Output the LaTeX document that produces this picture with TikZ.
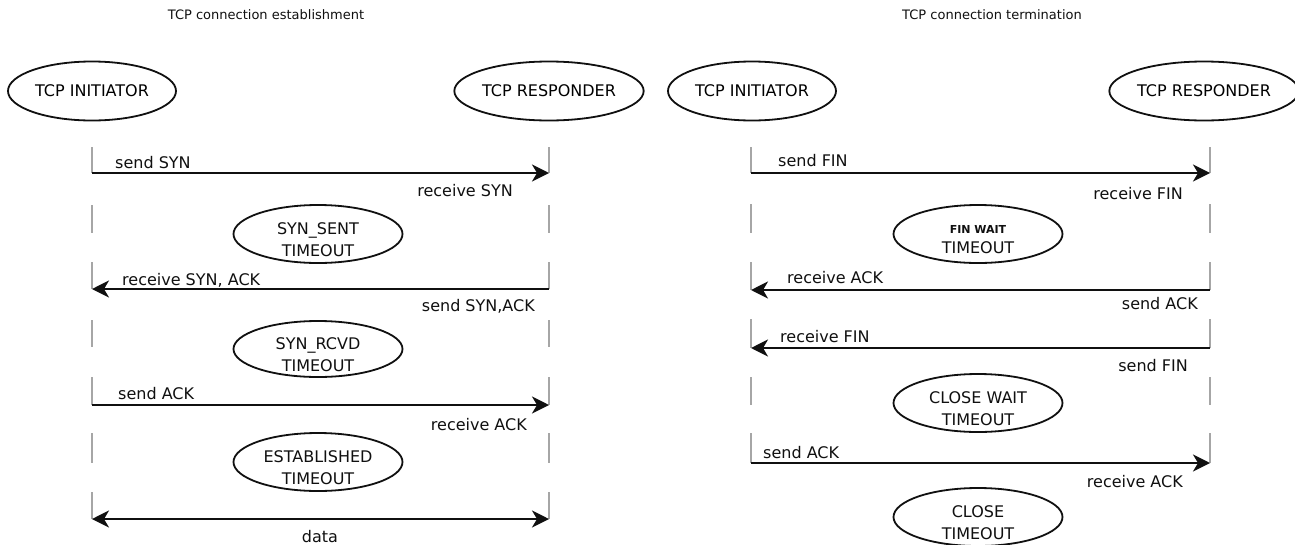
\documentclass[tikz,border=0pt]{standalone}
\usepackage{fontspec}
\setmainfont{DejaVu Sans}
\usepackage{tikz}
\usetikzlibrary{arrows.meta,shapes.geometric}
\definecolor{ink}{HTML}{101010}
\definecolor{lifegray}{HTML}{A6A6A6}
\tikzset{
  msg/.style={-{Stealth[length=17pt,width=17pt,inset=5pt]},draw=ink,line width=2.2pt},
  bothmsg/.style={{Stealth[length=17pt,width=17pt,inset=5pt]}-{Stealth[length=17pt,width=17pt,inset=5pt]},draw=ink,line width=2.2pt},
  life/.style={draw=lifegray,line width=1.4pt},
  party/.style={ellipse,draw=ink,line width=1.8pt,minimum width=168pt,minimum height=59pt,
                inner sep=0pt,font=\fontsize{16}{19}\selectfont},
  state/.style={ellipse,draw=ink,line width=1.8pt,minimum width=169pt,minimum height=58pt,inner sep=0pt},
  statetext/.style={font=\fontsize{16}{22}\selectfont,text=ink,align=center,inner sep=0pt,yshift=-5.5pt},
  msgtext/.style={font=\fontsize{16}{19}\selectfont,text=ink,inner sep=0pt},
  heading/.style={font=\fontsize{13}{16}\selectfont,text=ink,inner sep=0pt,anchor=base},
}
\begin{document}
\begin{tikzpicture}[x=1pt,y=-1pt]
  \useasboundingbox[fill=white] (0,0) rectangle (1295,544);

  % connection establishment
  \node[heading] (ttlA) at (266,19) {TCP connection establishment};
  \node[party] (iniA) at (92,91) {TCP INITIATOR};
  \node[party] (resA) at (549,91) {TCP RESPONDER};
  \foreach \ya/\yb in {147/173,205/233,262/289,320/347,377/405,433/463,492/519}{
    \draw[life] (92,\ya) -- (92,\yb);
    \draw[life] (549,\ya) -- (549,\yb);
  }
  \coordinate (a1) at (92,173);  \coordinate (b1) at (549,173);
  \coordinate (a2) at (92,289);  \coordinate (b2) at (549,289);
  \coordinate (a3) at (92,405);  \coordinate (b3) at (549,405);
  \coordinate (a4) at (92,519);  \coordinate (b4) at (549,519);
  \draw[msg] (a1) -- (b1);
  \draw[msg] (b2) -- (a2);
  \draw[msg] (a3) -- (b3);
  \draw[bothmsg] (a4) -- (b4);
  \node[msgtext,anchor=base west] (sA1) at (115,168) {send SYN};
  \node[msgtext,anchor=base east] (rA1) at (513,196) {receive SYN};
  \node[msgtext,anchor=base west] (rA2) at (122,285) {receive SYN, ACK};
  \node[msgtext,anchor=base east] (sA2) at (535,311) {send SYN,ACK};
  \node[msgtext,anchor=base west] (sA3) at (118,399) {send ACK};
  \node[msgtext,anchor=base east] (rA3) at (527,430) {receive ACK};
  \node[msgtext,anchor=base] (dat) at (320,542) {data};
  \node[state,label={[statetext]center:{SYN\_SENT\\TIMEOUT}}] (synsent) at (318,234) {};
  \node[state,minimum height=56pt,label={[statetext]center:{SYN\_RCVD\\TIMEOUT}}] (synrcvd) at (318,349) {};
  \node[state,label={[statetext]center:{ESTABLISHED\\TIMEOUT}}] (estab) at (318,462) {};

  % connection termination
  \node[heading] (ttlB) at (992,19) {TCP connection termination};
  \node[party] (iniB) at (752,91) {TCP INITIATOR};
  \node[party,minimum width=170pt] (resB) at (1204,91) {TCP RESPONDER};
  \foreach \ya/\yb in {147/173,204/233,262/290,319/348,377/405,433/463}{
    \draw[life] (751,\ya) -- (751,\yb);
    \draw[life] (1210,\ya) -- (1210,\yb);
  }
  \coordinate (c1) at (751,173);  \coordinate (d1) at (1210,173);
  \coordinate (c2) at (751,290);  \coordinate (d2) at (1210,290);
  \coordinate (c3) at (751,348);  \coordinate (d3) at (1210,348);
  \coordinate (c4) at (751,463);  \coordinate (d4) at (1210,463);
  \draw[msg] (c1) -- (d1);
  \draw[msg] (d2) -- (c2);
  \draw[msg] (d3) -- (c3);
  \draw[msg] (c4) -- (d4);
  \node[msgtext,anchor=base west] (sB1) at (778,166) {send FIN};
  \node[msgtext,anchor=base east] (rB1) at (1183,199) {receive FIN};
  \node[msgtext,anchor=base west] (rB2) at (787,283) {receive ACK};
  \node[msgtext,anchor=base east] (sB2) at (1198,309) {send ACK};
  \node[msgtext,anchor=base west] (rB3) at (780,342) {receive FIN};
  \node[msgtext,anchor=base east] (sB3) at (1188,371) {send FIN};
  \node[msgtext,anchor=base west] (sB4) at (763,458) {send ACK};
  \node[msgtext,anchor=base east] (rB4) at (1183,487) {receive ACK};
  \node[state,label={[statetext]center:{{\fontsize{11}{13}\selectfont\bfseries FIN WAIT}\\[-2pt]TIMEOUT}}] (finwait) at (978,234) {};
  \node[state,label={[statetext]center:{CLOSE WAIT\\TIMEOUT}}] (closewait) at (978,403) {};
  \node[state,label={[statetext]center:{CLOSE\\TIMEOUT}}] (closed) at (978,517) {};
\end{tikzpicture}
\end{document}
